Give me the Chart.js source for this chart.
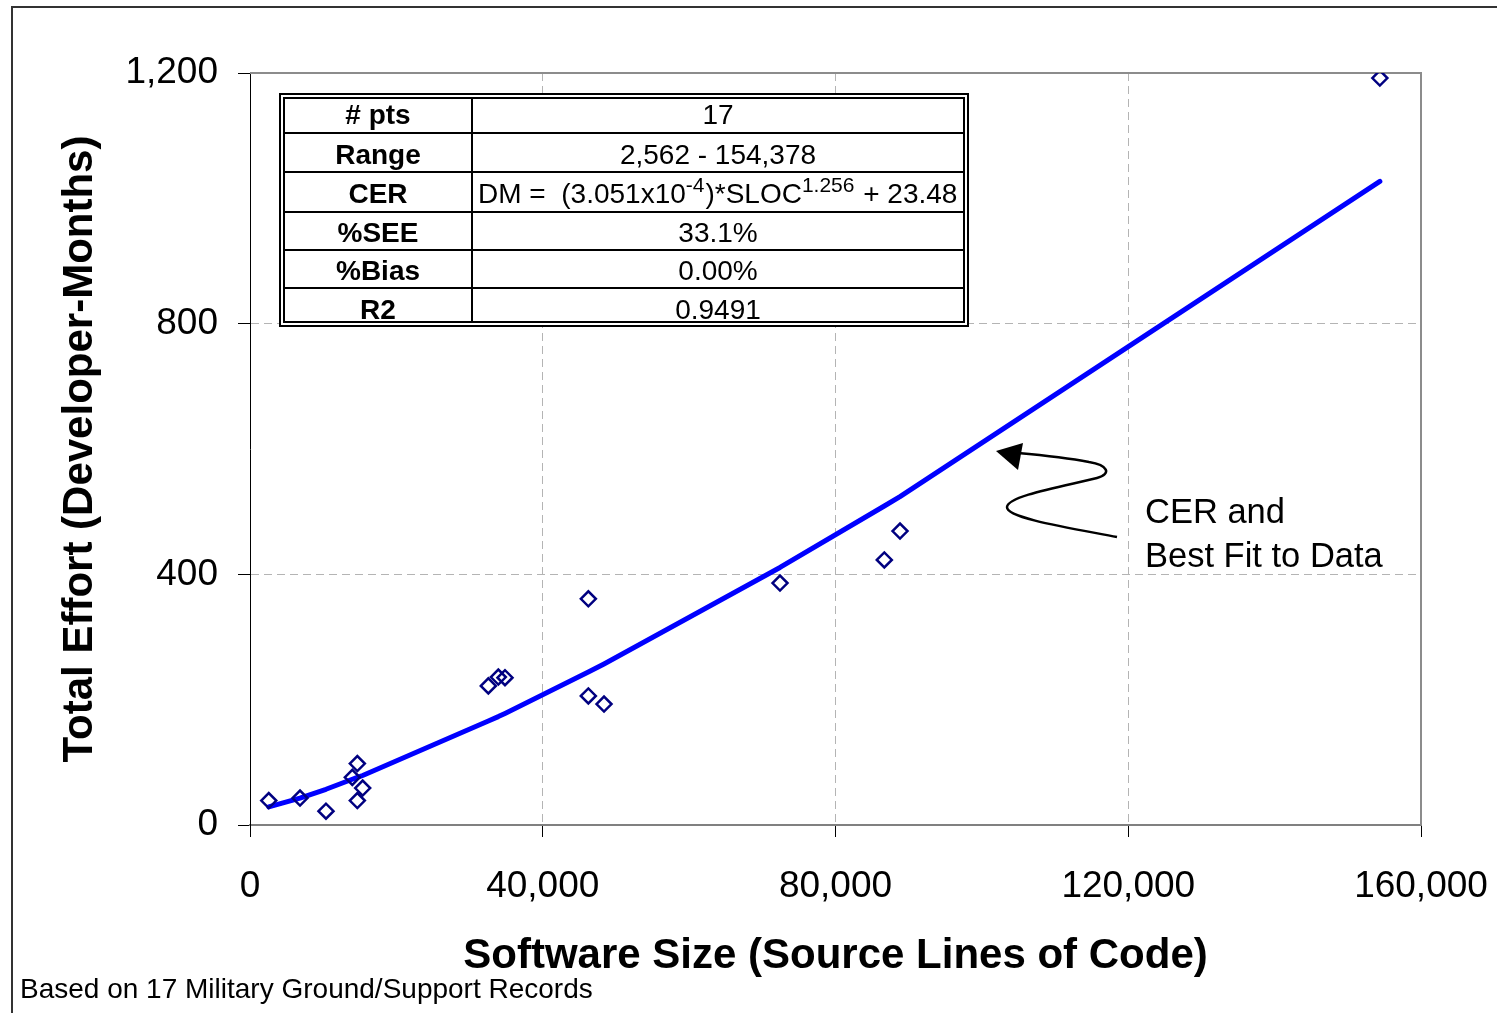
<!DOCTYPE html>
<html>
<head>
<meta charset="utf-8">
<script src="https://cdn.jsdelivr.net/npm/chart.js@4/dist/chart.umd.min.js"></script>
<style>
  html, body { margin: 0; padding: 0; background: #fff; }
  canvas { display: block; }
</style>
</head>
<body>
<canvas id="chart" width="1497" height="1013"></canvas>
<script>
const FONT = "'Liberation Sans', Arial, Helvetica, sans-serif";

// 17 records: size in SLOC, effort in developer-months
const sizeSloc = [2562, 6832, 10384, 13980, 14665, 14665, 15394, 32565, 33930, 34842,
  46230, 46230, 48370, 72416, 86670, 88813, 154378];
const effortDm = [39, 43, 22, 76, 98, 39, 59, 222, 236, 235,
  361, 206, 193, 386, 423, 469, 1192];

// the CER curve as it is drawn, sampled at the distinct record sizes
const fitSloc = [2562, 6832, 10384, 13980, 14665, 15394, 32565, 33930, 34842,
  46230, 48370, 72416, 86670, 88813, 154378];
const fitDm = [29, 43, 57, 73, 76, 79, 166, 173, 178, 244, 257, 411, 509, 524, 1027];

const xTicks = [0, 40000, 80000, 120000, 160000];
const yTicks = [0, 400, 800, 1200];

const tableLabels = ['# pts', 'Range', 'CER', '%SEE', '%Bias', 'R2'];
const tableValues = ['17', '2,562 - 154,378', null, '33.1%', '0.00%', '0.9491'];
// CER formula pieces: [text, isSuperscript]
const cerParts = [['DM =  (3.051x10', false], ['-4', true], [')*SLOC', false], ['1.256', true], [' + 23.48', false]];

const noteLines = ['CER and', 'Best Fit to Data'];
const footNote = 'Based on 17 Military Ground/Support Records';

Chart.defaults.font.family = FONT;
Chart.defaults.color = '#000';

// gridlines are dashed except at the axis ends (those are borders)
function innerGrid(ticks) {
  return (ctx) => {
    const v = ctx.tick ? ctx.tick.value : null;
    return (v === ticks[0] || v === ticks[ticks.length - 1]) ? 'rgba(0,0,0,0)' : '#b4b4b4';
  };
}

function drawTable(ctx) {
  const left = 279, right = 969, top = 93, bottom = 327, colX = 472;
  const rowEdges = [93, 133, 172, 212, 250, 288, 327];

  ctx.save();
  ctx.fillStyle = '#fff';
  ctx.fillRect(left, top, right - left, bottom - top);
  ctx.strokeStyle = '#000';
  ctx.lineWidth = 2;
  ctx.strokeRect(left + 1, top + 1, right - left - 2, bottom - top - 2);
  ctx.strokeRect(left + 5, top + 5, right - left - 10, bottom - top - 10);

  ctx.beginPath();
  for (let i = 1; i < rowEdges.length - 1; i++) {
    ctx.moveTo(left + 5, rowEdges[i]);
    ctx.lineTo(right - 5, rowEdges[i]);
  }
  ctx.moveTo(colX, top + 5);
  ctx.lineTo(colX, bottom - 5);
  ctx.stroke();

  ctx.fillStyle = '#000';
  ctx.textBaseline = 'alphabetic';
  tableLabels.forEach((label, i) => {
    const base = (rowEdges[i] + rowEdges[i + 1]) / 2 + 11;
    ctx.textAlign = 'center';
    ctx.font = `bold 28px ${FONT}`;
    ctx.fillText(label, (left + 5 + colX) / 2, base);
    ctx.font = `28px ${FONT}`;
    if (tableValues[i] !== null) {
      ctx.fillText(tableValues[i], (colX + right - 5) / 2, base);
    } else {
      ctx.textAlign = 'left';
      let x = 478;
      cerParts.forEach(([text, sup]) => {
        ctx.font = sup ? `21px ${FONT}` : `28px ${FONT}`;
        ctx.fillText(text, x, sup ? base - 11 : base);
        x += ctx.measureText(text).width + (sup ? 1 : 0);
      });
    }
  });
  ctx.restore();
}

function drawNote(ctx) {
  ctx.save();
  // squiggly leader from the label back to the curve
  ctx.strokeStyle = '#000';
  ctx.lineWidth = 2.5;
  ctx.beginPath();
  ctx.moveTo(1117, 537);
  ctx.bezierCurveTo(1070, 528, 1006, 518, 1007, 507);
  ctx.bezierCurveTo(1008, 496, 1060, 487, 1097, 478);
  ctx.bezierCurveTo(1112, 474, 1108, 465, 1089, 462);
  ctx.bezierCurveTo(1068, 458, 1040, 455, 1018, 453);
  ctx.stroke();

  ctx.fillStyle = '#000';
  ctx.beginPath();
  ctx.moveTo(996, 451);
  ctx.lineTo(1023, 443);
  ctx.lineTo(1018, 470);
  ctx.closePath();
  ctx.fill();

  ctx.font = `34.5px ${FONT}`;
  ctx.textAlign = 'left';
  ctx.textBaseline = 'alphabetic';
  ctx.fillText(noteLines[0], 1145, 523);
  ctx.fillText(noteLines[1], 1145, 567);
  ctx.restore();
}

const decorations = {
  id: 'decorations',
  beforeDatasetsDraw(chart) {
    const { ctx, chartArea: a } = chart;
    ctx.save();
    ctx.strokeStyle = '#8c8c8c';
    ctx.lineWidth = 2;
    ctx.beginPath();
    ctx.moveTo(a.left, a.top);
    ctx.lineTo(a.right, a.top);
    ctx.lineTo(a.right, a.bottom);
    ctx.stroke();
    ctx.restore();
  },
  afterDraw(chart) {
    const { ctx, width, height } = chart;
    drawTable(ctx);
    drawNote(ctx);

    ctx.save();
    // outer frame of the figure (only top and left edges are inside the picture)
    ctx.strokeStyle = '#333';
    ctx.lineWidth = 2;
    ctx.beginPath();
    ctx.moveTo(12, height);
    ctx.lineTo(12, 7);
    ctx.lineTo(width, 7);
    ctx.stroke();

    ctx.fillStyle = '#000';
    ctx.font = `28px ${FONT}`;
    ctx.textAlign = 'left';
    ctx.textBaseline = 'alphabetic';
    ctx.fillText(footNote, 20, 998);
    ctx.restore();
  },
};

new Chart(document.getElementById('chart'), {
  type: 'scatter',
  data: {
    datasets: [
      {
        label: 'Records',
        data: sizeSloc.map((x, i) => ({ x, y: effortDm[i] })),
        pointStyle: 'rectRot',
        pointRadius: 7.5,
        pointBorderWidth: 2.5,
        pointBorderColor: '#000080',
        pointBackgroundColor: 'rgba(255,255,255,0)',
        order: 0,
      },
      {
        label: 'CER',
        type: 'line',
        data: fitSloc.map((x, i) => ({ x, y: fitDm[i] })),
        borderColor: '#0000ff',
        borderWidth: 5,
        borderCapStyle: 'round',
        borderJoinStyle: 'round',
        pointRadius: 0,
        tension: 0,
        fill: false,
        order: 1,
      },
    ],
  },
  options: {
    responsive: false,
    animation: false,
    devicePixelRatio: 1,
    layout: { padding: { left: 0, top: 73, right: 76, bottom: 0 } },
    plugins: { legend: { display: false }, tooltip: { enabled: false } },
    scales: {
      x: {
        type: 'linear',
        min: 0,
        max: 160000,
        afterBuildTicks: (scale) => { scale.ticks = xTicks.map((value) => ({ value })); },
        afterFit: (scale) => {
          scale.height = 188;
          scale.paddingLeft = 0;
          scale.paddingRight = 0;
        },
        ticks: { font: { size: 37 }, color: '#000', padding: 28, maxRotation: 0, autoSkip: false },
        grid: {
          color: innerGrid(xTicks),
          lineWidth: 1,
          tickColor: '#000',
          tickLength: 12,
          tickWidth: 1,
          tickBorderDash: [],
        },
        border: { color: '#808080', width: 2, dash: [8, 5] },
        title: {
          display: true,
          text: 'Software Size (Source Lines of Code)',
          font: { size: 42, weight: 'bold' },
          color: '#000',
          padding: { top: 0, bottom: 31 },
        },
      },
      y: {
        type: 'linear',
        min: 0,
        max: 1200,
        afterBuildTicks: (scale) => { scale.ticks = yTicks.map((value) => ({ value })); },
        afterFit: (scale) => {
          scale.width = 250;
          scale.paddingTop = 0;
          scale.paddingBottom = 0;
        },
        ticks: { font: { size: 37 }, color: '#000', padding: 20 },
        grid: {
          color: innerGrid(yTicks),
          lineWidth: 1,
          tickColor: '#000',
          tickLength: 12,
          tickWidth: 1,
          tickBorderDash: [],
        },
        border: { color: '#000', width: 1, dash: [8, 5] },
        title: {
          display: true,
          text: 'Total Effort (Developer-Months)',
          font: { size: 42, weight: 'bold' },
          color: '#000',
          padding: { top: 55, bottom: 0 },
        },
      },
    },
  },
  plugins: [decorations],
});
</script>
</body>
</html>
